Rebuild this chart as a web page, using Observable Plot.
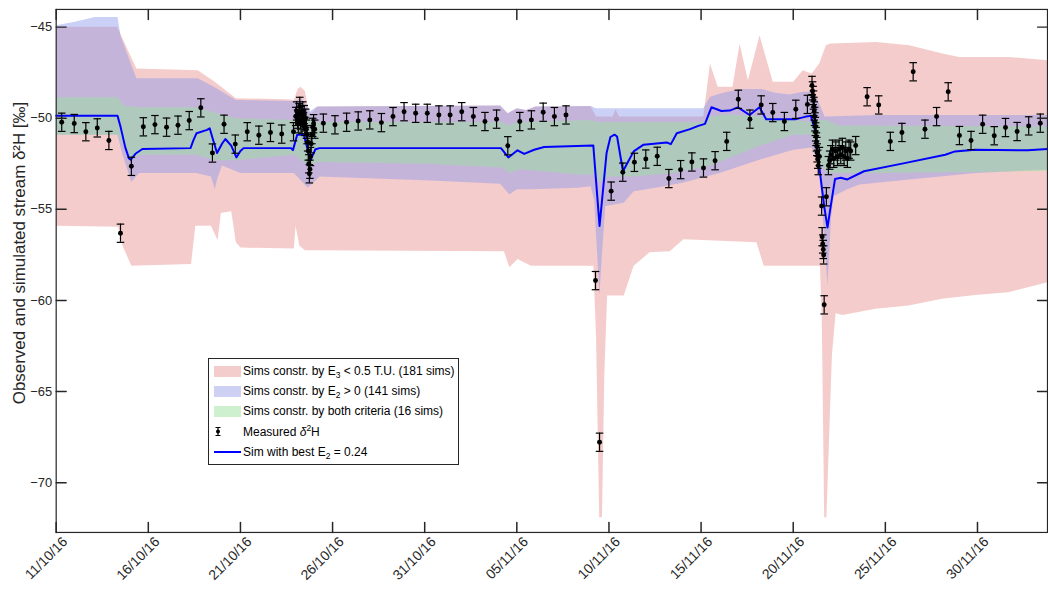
<!DOCTYPE html>
<html>
<head>
<meta charset="utf-8">
<script src="https://cdn.jsdelivr.net/npm/d3@7"></script>
<script src="https://cdn.jsdelivr.net/npm/@observablehq/plot@0.6"></script>
<style>
  html, body { margin: 0; padding: 0; background: #fff; overflow: hidden; }
  #chart { position: relative; width: 1048px; height: 592px; overflow: hidden;
           font-family: "Liberation Sans", Arial, sans-serif; }
  #legend { position: absolute; left: 208px; top: 358px; padding: 2px 3px 2px 5px;
            border: 1px solid #262626; background: #fff; font-size: 12px; color: #000; }
  #legend .row { display: flex; align-items: center; height: 20.2px; white-space: nowrap; }
  #legend .key { width: 27px; height: 11px; margin-right: 2px; flex: none; }
  #legend sub { font-size: 8.5px; vertical-align: -3px; line-height: 0; }
  #legend sup { font-size: 8.5px; vertical-align: 5px; line-height: 0; }
</style>
</head>
<body>
<div id="chart"></div>
<script>
// Days are counted from 11/10/2016 00:00 (UTC); values are delta-2H in per mil.
const xTickLabels = ["11/10/16", "16/10/16", "21/10/16", "26/10/16", "31/10/16", "05/11/16",
                     "10/11/16", "15/11/16", "20/11/16", "25/11/16", "30/11/16"];
const yTicks = [-70, -65, -60, -55, -50, -45];

// Envelope of simulations constrained by E3 < 0.5 T.U.
const redUpper = [[0,-44.98],[3.3,-44.98],[3.45,-45.3],[4.35,-47.27],[7.68,-47.36],[8.6,-48.0],[9.75,-48.9],
  [12.5,-48.96],[12.9,-49.0],[13.1,-48.4],[13.26,-48.27],[13.5,-48.5],[13.7,-49.6],[13.85,-49.73],[14.16,-49.36],
  [24.1,-49.3],[24.5,-49.73],[25.0,-49.45],[25.5,-49.55],[26.0,-49.36],[29.0,-49.33],[29.3,-49.9],[30.2,-49.9],
  [30.35,-49.5],[30.55,-49.9],[35.12,-49.9],[35.48,-47.0],[35.9,-48.27],[36.7,-48.27],[37.09,-45.91],[37.54,-47.91],
  [38.17,-45.45],[38.89,-48.0],[40.0,-48.0],[40.51,-47.36],[41.0,-47.54],[41.41,-47.0],[41.77,-46.0],[42.0,-45.9],
  [44.5,-45.82],[46.3,-46.0],[48.1,-46.45],[49.0,-46.64],[51.7,-46.64],[53.8,-46.82]];
const redLower = [[0,-55.9],[3.36,-55.95],[3.6,-57.0],[4.08,-58.09],[7.32,-58.0],[7.55,-55.9],[8.4,-55.9],
  [8.76,-56.7],[8.94,-55.2],[9.5,-55.1],[9.75,-56.8],[10.0,-57.1],[12.9,-57.15],[12.99,-55.91],[13.2,-57.0],
  [13.5,-57.25],[24.3,-57.3],[24.59,-58.18],[25.04,-57.73],[25.76,-58.09],[29.15,-58.1],[29.3,-62.0],
  [29.47,-71.9],[29.62,-71.9],[29.75,-64.0],[29.9,-59.73],[30.8,-59.73],[31.34,-58.09],[32.2,-57.36],
  [33.3,-57.3],[34.04,-56.64],[38.0,-56.8],[38.4,-58.09],[41.45,-58.1],[41.55,-61.0],[41.68,-71.9],
  [41.8,-71.9],[42.1,-63.0],[42.3,-60.7],[42.67,-60.8],[44.47,-60.45],[46.27,-60.27],[48.07,-59.9],
  [49.87,-59.7],[51.66,-59.55],[53.8,-59.0]];

// Envelope of simulations constrained by E2 > 0
const blueUpper = [[0,-44.9],[1.0,-44.7],[2.1,-44.45],[3.33,-44.45],[3.5,-45.5],[4.35,-47.8],[7.68,-47.8],
  [8.6,-48.3],[9.75,-49.0],[12.9,-49.05],[13.3,-48.9],[13.8,-49.6],[14.16,-49.36],[24.1,-49.3],[24.5,-49.73],
  [25.0,-49.45],[25.5,-49.55],[26.0,-49.36],[29.0,-49.33],[29.3,-49.45],[35.12,-49.45],[35.48,-48.82],
  [36.2,-48.6],[37.09,-48.4],[38.3,-48.4],[39.0,-48.6],[39.8,-48.7],[40.5,-48.55],[41.0,-48.55],[41.3,-48.9],
  [41.7,-49.9],[44.5,-49.82],[53.8,-49.82]];
const blueLower = [[0,-50.9],[3.33,-50.9],[3.6,-52.0],[4.08,-53.5],[4.5,-53.0],[7.6,-53.0],[8.4,-53.2],
  [8.6,-53.9],[8.75,-53.3],[9.0,-52.6],[9.5,-52.8],[10.0,-53.0],[12.9,-53.0],[13.65,-53.82],[14.3,-53.2],
  [20.0,-53.4],[24.1,-53.6],[24.59,-54.18],[25.0,-53.9],[25.8,-53.9],[28.3,-53.82],[29.0,-53.73],[29.2,-54.5],
  [29.48,-59.7],[29.62,-57.5],[29.8,-54.82],[30.8,-54.64],[31.34,-54.0],[32.6,-53.8],[34.0,-53.54],
  [36.0,-53.0],[38.2,-52.27],[40.0,-51.73],[41.0,-51.6],[41.4,-52.5],[41.86,-59.18],[42.05,-55.5],
  [42.2,-54.27],[42.9,-53.91],[43.6,-53.64],[46.3,-53.36],[49.9,-53.0],[53.8,-52.82]];

// Envelope of simulations meeting both criteria
const greenUpper = [[0,-48.85],[3.33,-48.85],[3.7,-49.3],[4.4,-49.4],[7.6,-49.4],[8.6,-49.7],[9.75,-50.0],
  [12.9,-50.1],[13.4,-49.9],[14.2,-50.2],[24.2,-50.2],[24.5,-50.4],[25.0,-50.2],[29.0,-50.1],[29.4,-50.2],
  [35.1,-50.2],[35.5,-49.9],[36.5,-49.8],[38.3,-49.9],[40.0,-50.1],[41.0,-50.2],[41.3,-50.1],[41.8,-50.1],
  [42.5,-50.4],[53.8,-50.45]];
const greenLower = [[0,-50.9],[3.33,-50.9],[3.7,-51.6],[4.08,-52.3],[4.5,-52.0],[7.6,-52.0],[8.6,-52.3],
  [9.8,-52.3],[12.9,-52.0],[13.7,-52.6],[14.2,-52.4],[20.0,-52.5],[24.2,-52.7],[24.6,-53.0],[25.2,-52.8],
  [28.3,-53.09],[29.2,-53.1],[29.5,-53.5],[30.0,-53.2],[31.3,-53.2],[33.5,-53.0],[35.5,-52.6],[38.2,-51.5],
  [40.0,-50.9],[41.0,-50.9],[41.4,-52.5],[41.9,-53.0],[42.3,-53.0],[44.5,-53.0],[53.8,-52.9]];

// Simulation with the best E2
const simBest = [[0,-49.87],[3.33,-49.87],[3.5,-50.5],[3.75,-51.6],[3.95,-52.2],[4.05,-52.27],[4.3,-51.95],
  [4.68,-51.69],[7.29,-51.64],[7.45,-51.2],[7.62,-50.82],[8.19,-50.64],[8.33,-50.55],[8.55,-51.3],[8.73,-51.91],
  [9.0,-51.4],[9.18,-51.14],[9.5,-51.5],[9.78,-52.15],[10.0,-51.8],[10.17,-51.64],[12.75,-51.64],[12.85,-51.75],
  [13.08,-50.91],[13.44,-50.91],[13.8,-52.3],[14.07,-51.7],[14.3,-51.64],[24.14,-51.64],[24.54,-52.15],
  [25.04,-51.76],[25.4,-51.96],[25.94,-51.73],[26.48,-51.58],[29.15,-51.49],[29.49,-55.91],[29.87,-51.91],
  [30.08,-51.03],[30.3,-50.9],[30.44,-51.0],[30.76,-52.91],[31.34,-51.82],[31.88,-51.45],[33.14,-51.33],
  [33.36,-51.42],[33.68,-50.82],[34.4,-50.6],[34.85,-50.42],[35.21,-50.31],[35.56,-49.4],[36.1,-49.6],
  [36.55,-49.58],[37.0,-49.4],[37.63,-49.82],[38.17,-49.4],[38.53,-50.05],[40.15,-50.05],[40.69,-49.91],
  [40.96,-49.87],[41.23,-50.82],[41.41,-52.64],[41.68,-54.82],[41.86,-56.0],[42.04,-54.8],[42.27,-53.33],
  [42.58,-53.27],[42.94,-53.36],[43.84,-52.91],[45.91,-52.49],[48.25,-52.0],[48.78,-51.82],[49.87,-51.73],
  [52.74,-51.76],[53.8,-51.69]];

// Measured stream delta-2H (day, value)
const measured = [[0.30,-50.22],[0.98,-50.29],[1.61,-50.74],[2.23,-50.53],[2.86,-51.22],[3.49,-56.31],
  [4.08,-52.64],[4.73,-50.47],[5.36,-50.35],[5.99,-50.49],[6.61,-50.38],[7.22,-50.13],[7.85,-49.43],
  [8.48,-51.91],[9.11,-50.33],[9.72,-51.42],[10.37,-50.74],[11.0,-50.93],[11.63,-50.78],[12.24,-50.87],
  [12.88,-50.74],
  [13.0,-49.9],[13.05,-49.6],[13.1,-50.05],[13.14,-50.3],[13.18,-49.7],[13.22,-49.35],[13.26,-50.1],
  [13.3,-49.85],[13.34,-50.35],[13.38,-49.6],[13.42,-50.2],[13.46,-49.8],[13.5,-50.45],[13.54,-50.0],
  [13.58,-50.6],[13.62,-50.9],[13.65,-51.3],[13.68,-51.8],[13.71,-52.5],[13.74,-53.05],[13.77,-52.8],
  [13.8,-52.1],[13.84,-51.4],[13.88,-50.9],[13.92,-50.5],[13.97,-50.3],[14.03,-50.6],
  [14.5,-50.27],[15.13,-50.36],[15.76,-50.22],[16.39,-50.15],[17.02,-50.09],[17.65,-50.24],[18.28,-49.91],
  [18.88,-49.64],[19.51,-49.73],[20.14,-49.73],[20.77,-49.82],[21.38,-49.82],[22.01,-49.64],[22.64,-49.91],
  [23.27,-50.18],[23.9,-50.05],[24.51,-51.51],[25.16,-50.18],[25.79,-50.09],[26.43,-49.67],[27.04,-49.91],
  [27.67,-49.82],[29.27,-58.91],[29.49,-67.78],[30.12,-54.0],[30.75,-52.96],[31.38,-52.42],[32.0,-52.24],
  [32.62,-52.09],[33.25,-53.31],[33.89,-52.82],[34.5,-52.4],[35.13,-52.73],[35.76,-52.33],[36.39,-51.27],
  [37.02,-48.96],[37.65,-50.05],[38.26,-49.27],[38.89,-49.69],[39.52,-50.18],[40.14,-49.51],[40.77,-49.24],
  [41.02,-48.2],[41.05,-48.5],[41.08,-48.75],[41.1,-49.0],[41.12,-49.35],[41.14,-49.6],[41.16,-49.9],
  [41.18,-50.2],[41.2,-50.45],[41.22,-50.75],[41.24,-51.0],[41.26,-51.3],[41.28,-51.55],[41.3,-51.9],
  [41.33,-52.25],[41.36,-52.6],[41.42,-52.1],[41.54,-54.82],[41.57,-56.5],[41.6,-56.9],[41.63,-57.2],
  [41.65,-57.5],[41.68,-60.24],[41.8,-54.31],[41.91,-52.6],[41.98,-52.3],[42.04,-52.0],[42.13,-51.7],
  [42.2,-52.2],[42.31,-51.8],[42.4,-52.1],[42.49,-51.7],[42.58,-52.0],[42.67,-51.6],[42.76,-52.1],
  [42.85,-51.8],[42.94,-52.2],[43.03,-51.7],[43.12,-51.8],[43.39,-51.5],
  [44.01,-48.82],[44.64,-49.27],[45.27,-51.27],[45.9,-50.78],[46.51,-47.45],[47.15,-50.6],[47.78,-49.91],
  [48.41,-48.55],[49.02,-50.95],[49.65,-51.22],[50.28,-50.33],[50.91,-50.96],[51.52,-50.51],[52.15,-50.73],
  [52.78,-50.42],[53.41,-50.27]];
const measuredError = 0.5;

const legendLabels = [
  "Sims constr. by E<sub>3</sub> &lt; 0.5 T.U. (181 sims)",
  "Sims constr. by E<sub>2</sub> &gt; 0 (141 sims)",
  "Sims constr. by both criteria (16 sims)",
  "Measured <i>&delta;</i><sup>2</sup>H",
  "Sim with best E<sub>2</sub> = 0.24"
];
const yLabel = "Observed and simulated stream δ²H [‰]";

// ---------------------------------------------------------------
const start = Date.UTC(2016, 9, 11);
const DAY = 864e5;
const t = (d) => new Date(start + d * DAY);
const parseTick = d3.utcParse("%d/%m/%y");
const xTicks = xTickLabels.map(parseTick);

const polygon = (upper, lower) =>
  [...upper, ...lower.slice().reverse()].map(([d, v]) => ({t: t(d), v}));
const obs = measured.map(([d, v]) => ({t: t(d), v}));
const sim = simBest.map(([d, v]) => ({t: t(d), v}));

const axisColor = "#262626";
// Translucent fills, stacked red -> blue -> green so overlaps mix
const fills = {
  red: {fill: "rgb(205,0,0)", opacity: 0.2},
  blue: {fill: "rgb(140,150,235)", opacity: 0.45},
  green: {fill: "rgb(135,245,130)", opacity: 0.33}
};

const tickShape = {draw(ctx, l) { ctx.moveTo(0, 0); ctx.lineTo(0, -l); }};
const capSymbol = {draw(ctx, size) { const w = Math.sqrt(size / Math.PI); ctx.moveTo(-w, 0); ctx.lineTo(w, 0); }};

const band = (u, l, c) => Plot.line(polygon(u, l), {x: "t", y: "v", fill: c.fill, fillOpacity: c.opacity, stroke: "none"});

const chart = Plot.plot({
  width: 1054,
  height: 592,
  marginLeft: 56,
  marginRight: 1,
  marginTop: 9,
  marginBottom: 57,
  style: {fontFamily: "'Liberation Sans', Arial, sans-serif", fontSize: "13px", color: axisColor, background: "transparent"},
  x: {type: "utc", domain: [t(0), t(53.8)]},
  y: {domain: [-72.73, -44.03]},
  marks: [
    band(redUpper, redLower, fills.red),
    band(blueUpper, blueLower, fills.blue),
    band(greenUpper, greenLower, fills.green),
    Plot.line(sim, {x: "t", y: "v", stroke: "#0000ff", strokeWidth: 2}),
    Plot.ruleX(obs, {x: "t", y1: (d) => d.v - measuredError, y2: (d) => d.v + measuredError, stroke: "#000", strokeWidth: 1.2}),
    Plot.dot(obs, {x: "t", y: (d) => d.v - measuredError, symbol: capSymbol, r: 3.8, fill: "none", stroke: "#000", strokeWidth: 1.2}),
    Plot.dot(obs, {x: "t", y: (d) => d.v + measuredError, symbol: capSymbol, r: 3.8, fill: "none", stroke: "#000", strokeWidth: 1.2}),
    Plot.dot(obs, {x: "t", y: "v", r: 2.5, fill: "#000", stroke: "none"}),
    Plot.frame({stroke: axisColor, strokeWidth: 1.2}),
    Plot.vector(xTicks, {x: (d) => d, frameAnchor: "bottom", rotate: 0, length: 10, anchor: "start", shape: tickShape, stroke: axisColor}),
    Plot.vector(xTicks, {x: (d) => d, frameAnchor: "top", rotate: 180, length: 10, anchor: "start", shape: tickShape, stroke: axisColor}),
    Plot.vector(yTicks, {y: (d) => d, frameAnchor: "left", rotate: 90, length: 10, anchor: "start", shape: tickShape, stroke: axisColor}),
    Plot.vector(yTicks, {y: (d) => d, frameAnchor: "right", rotate: -90, length: 10, anchor: "start", shape: tickShape, stroke: axisColor}),
    Plot.axisX({ticks: xTicks, tickFormat: d3.utcFormat("%d/%m/%y"), tickSize: 0, tickPadding: 6, tickRotate: -45, dx: 9, dy: 1, label: null, fontSize: 14}),
    Plot.axisY({ticks: yTicks, tickSize: 0, tickPadding: 4, label: null, fontSize: 13}),
    Plot.text([yLabel], {text: (d) => d, frameAnchor: "left", textAnchor: "middle", rotate: -90, dx: -37, dy: -18, fontSize: 17, fill: axisColor})
  ]
});
document.getElementById("chart").appendChild(chart);

// Legend
const legend = d3.select("#chart").append("div").attr("id", "legend");
const keys = [
  {type: "patch", color: "rgb(243,204,204)"},
  {type: "patch", color: "rgb(206,208,244)"},
  {type: "patch", color: "rgb(206,240,206)"},
  {type: "errorbar"},
  {type: "line", color: "#0000ff"}
];
legendLabels.forEach((label, i) => {
  const row = legend.append("div").attr("class", "row");
  const k = keys[i];
  if (k.type === "patch") {
    row.append("div").attr("class", "key").style("background", k.color);
  } else {
    const svg = row.append("svg").attr("class", "key").attr("width", 27).attr("height", 11).style("overflow", "visible");
    if (k.type === "errorbar") {
      svg.append("path").attr("d", "M4,1.5V9.5M1.5,1.5H6.5M1.5,9.5H6.5").attr("stroke", "#000").attr("stroke-width", 1.2).attr("fill", "none");
      svg.append("circle").attr("cx", 4).attr("cy", 5.5).attr("r", 2).attr("fill", "#000");
    } else {
      svg.append("line").attr("x1", 0).attr("x2", 27).attr("y1", 6).attr("y2", 6).attr("stroke", k.color).attr("stroke-width", 2);
    }
  }
  row.append("span").html(label);
});
</script>
</body>
</html>
